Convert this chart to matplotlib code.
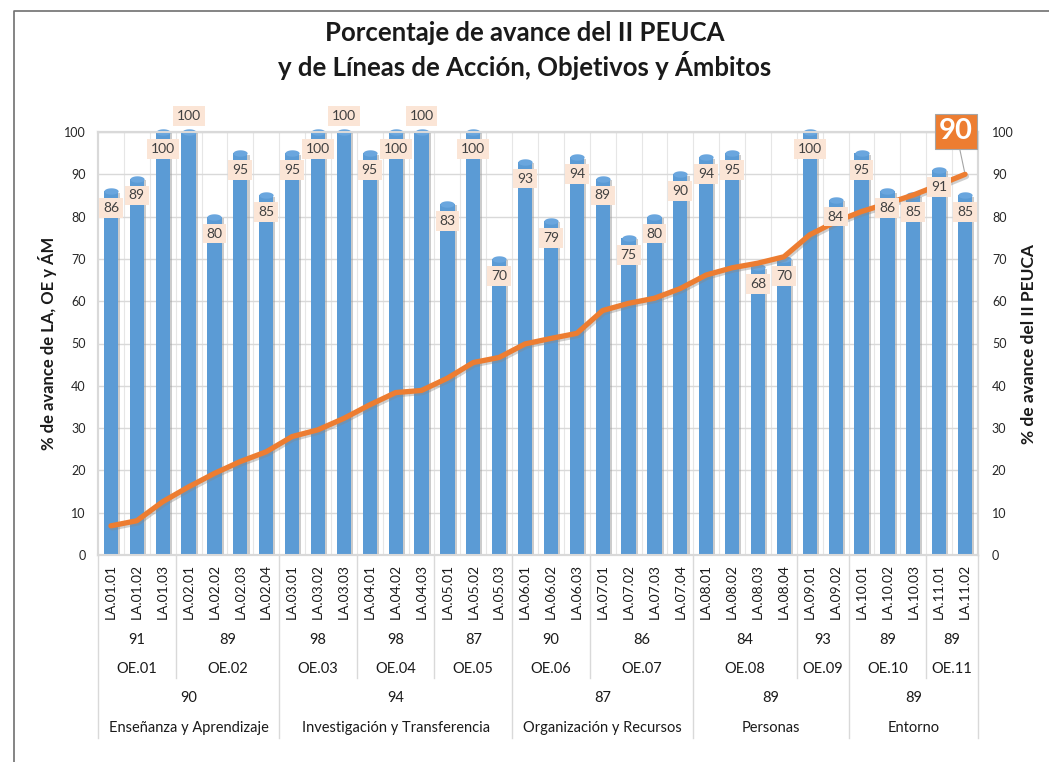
import matplotlib

matplotlib.use("Agg")
import matplotlib.pyplot as plt
import matplotlib.patheffects as pe
from matplotlib.lines import Line2D
from matplotlib.path import Path
import numpy as np

plt.rcParams["font.family"] = ["Lato", "DejaVu Sans"]

# Líneas de acción (LA), avance por LA y avance acumulado del II PEUCA
la_names = [
    "LA.01.01", "LA.01.02", "LA.01.03",
    "LA.02.01", "LA.02.02", "LA.02.03", "LA.02.04",
    "LA.03.01", "LA.03.02", "LA.03.03",
    "LA.04.01", "LA.04.02", "LA.04.03",
    "LA.05.01", "LA.05.02", "LA.05.03",
    "LA.06.01", "LA.06.02", "LA.06.03",
    "LA.07.01", "LA.07.02", "LA.07.03", "LA.07.04",
    "LA.08.01", "LA.08.02", "LA.08.03", "LA.08.04",
    "LA.09.01", "LA.09.02",
    "LA.10.01", "LA.10.02", "LA.10.03",
    "LA.11.01", "LA.11.02",
]
la_values = [
    86, 89, 100,
    100, 80, 95, 85,
    95, 100, 100,
    95, 100, 100,
    83, 100, 70,
    93, 79, 94,
    89, 75, 80, 90,
    94, 95, 68, 70,
    100, 84,
    95, 86, 85,
    91, 85,
]
peuca_values = [
    6.9, 8.1, 12.6, 16.1, 19.3, 22.1, 24.4, 28.0, 29.6, 32.3,
    35.5, 38.4, 38.9, 41.8, 45.5, 46.7, 49.9, 51.2, 52.4, 57.8,
    59.5, 60.7, 63.0, 66.2, 67.9, 69.0, 70.5, 75.7, 78.8, 81.2,
    83.1, 85.1, 87.5, 90.0,
]
# labels drawn above the bar instead of inside its end
labels_above = ["LA.02.01", "LA.03.03", "LA.04.03"]

# Objetivos estratégicos (OE)
oe_names = ["OE.01", "OE.02", "OE.03", "OE.04", "OE.05", "OE.06",
            "OE.07", "OE.08", "OE.09", "OE.10", "OE.11"]
oe_sizes = [3, 4, 3, 3, 3, 3, 4, 4, 2, 3, 2]
oe_values = [91, 89, 98, 98, 87, 90, 86, 84, 93, 89, 89]

# Ámbitos (ÁM)
am_names = ["Enseñanza y Aprendizaje", "Investigación y Transferencia",
            "Organización y Recursos", "Personas", "Entorno"]
am_oe_counts = [2, 3, 2, 2, 2]
am_values = [90, 94, 87, 89, 89]

BLUE = "#5B9BD5"
ORANGE = "#ED7D31"
PEACH = "#FBE5D6"
GRID = "#D9D9D9"
TXT = "#404040"

fig = plt.figure(figsize=(10.49, 7.62), dpi=100)
W, H = 1049, 762
# plot area in pixels: x 98..978, y 132..555
ax = fig.add_axes([98 / W, 1 - 555 / H, 880 / W, 423 / H])
ax2 = ax.twinx()

x = np.arange(len(la_names))
shadow = [pe.SimplePatchShadow(offset=(1.5, -1), shadow_rgbFace="#9a9a9a", alpha=0.5), pe.Normal()]
bars = ax.bar(x, la_values, 0.55, color=BLUE, zorder=3, path_effects=shadow)

# rounded (cylinder) tops of the bars
t = np.linspace(0, 2 * np.pi, 40)
ellipse = Path(np.column_stack([np.cos(t), 0.45 * np.sin(t)]))
ax.scatter(x, la_values, s=105, marker=ellipse, color="#6AA6DE",
           linewidths=0, zorder=4, clip_on=False)

ax.set_xlim(-0.5, len(la_names) - 0.5)
ax.set_ylim(0, 100)
ax2.set_ylim(0, 100)
ax.set_yticks(range(0, 101, 10))
ax2.set_yticks(range(0, 101, 10))
ax.tick_params(axis="y", length=0, labelsize=9, labelcolor="#262626", pad=9)
ax2.tick_params(axis="y", length=0, labelsize=9, labelcolor="#262626", pad=10)
ax.set_xticks([])
ax.grid(axis="y", color=GRID, lw=1, zorder=0)
for xb in np.arange(0.5, len(la_names) - 0.5, 1):
    ax.axvline(xb, color="#E6E6E6", lw=0.8, zorder=0)
for a in (ax, ax2):
    for s in a.spines.values():
        s.set_color(GRID)
        s.set_linewidth(1.5)

ax.set_ylabel("% de avance de LA, OE y ÁM", fontsize=12, fontweight="bold",
              color="#1a1a1a", labelpad=5)
ax2.set_ylabel("% de avance del II PEUCA", fontsize=12.5, fontweight="bold",
               color="#1a1a1a", labelpad=5)

# line for the overall plan
line_fx = [pe.SimpleLineShadow(offset=(1, -1.5), shadow_color="#888888", alpha=0.4), pe.Normal()]
ax2.plot(x, peuca_values, color=ORANGE, lw=3.8, solid_capstyle="round",
         solid_joinstyle="round", zorder=5, path_effects=line_fx)
ax.set_zorder(ax2.get_zorder() - 1)
ax2.patch.set_visible(False)

# data labels of the bars
for xi, name, v in zip(x, la_names, la_values):
    y = v + 3.7 if name in labels_above else v - 4
    ax2.text(xi, y, str(v), ha="center", va="center", fontsize=10,
             color=TXT, zorder=6, clip_on=False,
             bbox=dict(boxstyle="square,pad=0.28", fc=PEACH, ec="none"))

# callout for the last value of the plan
ax2.annotate(f"{peuca_values[-1]:.0f}", xy=(x[-1], peuca_values[-1]),
             xytext=(x[-1] - 0.35, 100.2), ha="center", va="center",
             fontsize=21, fontweight="bold", color="white", zorder=7,
             bbox=dict(boxstyle="square,pad=0.15", fc=ORANGE, ec="#A5A5A5", lw=0.8),
             arrowprops=dict(arrowstyle="-", color="#A5A5A5", lw=0.8,
                             shrinkA=0, shrinkB=2))

# multi-level category axis below the plot
tr = ax.get_xaxis_transform()


def ay(px):
    return -(px - 555) / 423


def vsep(xv, bottom_px):
    ax.add_line(Line2D([xv, xv], [0, ay(bottom_px)], transform=tr,
                       color=GRID, lw=1, clip_on=False))


for xi, name in zip(x, la_names):
    ax.text(xi, ay(564), name, transform=tr, rotation=90, ha="center",
            va="top", fontsize=10, color="#1a1a1a")

start = 0
oe_bounds = []
for name, size, v in zip(oe_names, oe_sizes, oe_values):
    mid = start + (size - 1) / 2
    ax.text(mid, ay(640), str(v), transform=tr, ha="center", va="center",
            fontsize=10.5, color="#1a1a1a")
    ax.text(mid, ay(669), name, transform=tr, ha="center", va="center",
            fontsize=10.5, color="#1a1a1a")
    oe_bounds.append(start - 0.5)
    start += size
oe_bounds.append(start - 0.5)

k = 0
am_bounds = [oe_bounds[0]]
for name, cnt, v in zip(am_names, am_oe_counts, am_values):
    left, right = oe_bounds[k], oe_bounds[k + cnt]
    mid = (left + right) / 2
    ax.text(mid, ay(698), str(v), transform=tr, ha="center", va="center",
            fontsize=10.5, color="#1a1a1a")
    ax.text(mid, ay(728), name, transform=tr, ha="center", va="center",
            fontsize=10.5, color="#1a1a1a")
    k += cnt
    am_bounds.append(right)

for b in oe_bounds:
    vsep(b, 738 if b in am_bounds else 678)

fig.text(0.5, 1 - 33 / H, "Porcentaje de avance del II PEUCA", ha="center",
         va="center", fontsize=18.5, fontweight="bold", color="#1a1a1a")
fig.text(0.5, 1 - 66 / H, "y de Líneas de Acción, Objetivos y Ámbitos",
         ha="center", va="center", fontsize=18.5, fontweight="bold", color="#1a1a1a")

# outer frame (only left and top edges show in the original crop)
fig.add_artist(Line2D([14 / W, 14 / W, 1], [0, 1 - 11 / H, 1 - 11 / H],
                      transform=fig.transFigure, color="#707070", lw=1.2))

fig.savefig("out.png", dpi=100)
